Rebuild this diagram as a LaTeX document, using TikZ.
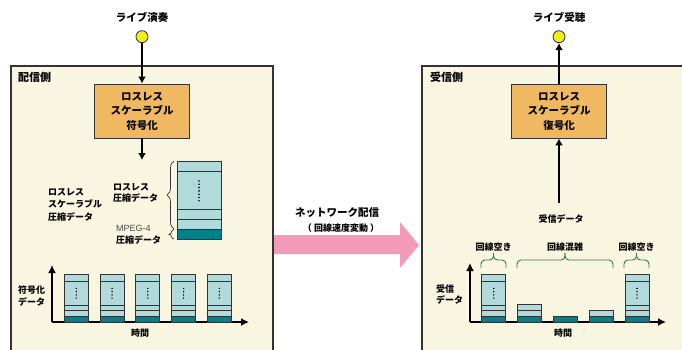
\documentclass[tikz,border=0pt]{standalone}
\usepackage{fontspec}
\setmainfont{Noto Sans CJK JP}
\newfontfamily\latinfont{Liberation Sans}
\usetikzlibrary{arrows.meta,decorations.pathreplacing}
\definecolor{panelbg}{HTML}{F8F6E1}
\definecolor{boxorange}{HTML}{F0B860}
\definecolor{lteal}{HTML}{B2DADB}
\definecolor{dteal}{HTML}{00808A}
\definecolor{pinkarrow}{HTML}{F39AB8}
\definecolor{bracegreen}{HTML}{2F7D3B}
\definecolor{dotyellow}{HTML}{F5EB1A}
\definecolor{linegray}{HTML}{333333}
\tikzset{
  panelline/.style={draw=linegray, line width=1.2pt},
  codecbox/.style={draw=linegray, fill=boxorange, line width=0.9pt, minimum width=95pt, minimum height=54pt, align=center, inner sep=0pt, font=\bfseries\fontsize{10.5}{14.5}\selectfont},
  lbl/.style={font=\bfseries\fontsize{9}{11.5}\selectfont, align=left, inner sep=0pt},
  title/.style={font=\bfseries\fontsize{10.5}{12}\selectfont, inner sep=0pt},
  live/.style={circle, fill=dotyellow, draw=linegray, line width=0.8pt, minimum size=12pt, inner sep=0pt},
  flow/.style={line width=1.7pt, -{Latex[length=7pt,width=8pt]}},
  axis/.style={line width=1.7pt, -{Latex[length=8pt,width=8pt]}},
  stk/.style={draw=linegray, line width=0.8pt},
  gbrace/.style={draw=bracegreen, line width=0.9pt, rounded corners=4pt},
  kbrace/.style={draw=linegray, line width=0.7pt, decorate},
}
\newcommand\fullcol[1]{%
  \fill[lteal] (#1,274.3) rectangle (#1+24,316);
  \fill[dteal] (#1,316) rectangle (#1+24,322);
  \draw[stk] (#1,274.3) rectangle (#1+24,322);
  \draw[stk] (#1,281) -- (#1+24,281) (#1,305) -- (#1+24,305) (#1,310.3) -- (#1+24,310.3) (#1,316) -- (#1+24,316);
  \foreach \k in {0,...,3} \fill (#1+12,288.5+3.2*\k) circle (0.8);
}
\begin{document}
\begin{tikzpicture}[x=1pt,y=-1pt]
\useasboundingbox (0,0) rectangle (682,350);
% pink network arrow
\fill[pinkarrow] (273,235) -- (400,235) -- (400,222) -- (419,245) -- (400,268) -- (400,254) -- (273,254) -- cycle;
% panels
\fill[panelbg] (11,66) rectangle (273,352);
\draw[panelline] (11,352) -- (11,66) -- (273,66) -- (273,352);
\fill[panelbg] (422,66) rectangle (686,352);
\draw[panelline] (422,352) -- (422,66) -- (686,66);
\node[title, anchor=west, font=\bfseries\fontsize{11}{12}\selectfont] (sendside) at (18,77) {配信側};
\node[title, anchor=west, font=\bfseries\fontsize{11}{12}\selectfont] (recvside) at (430,77) {受信側};
% network label
\node[title] (netlbl) at (337,213) {ネットワーク配信};
\node[lbl, font=\bfseries\fontsize{9}{10}\selectfont] (netsub) at (341,228) {（ 回線速度変動 ）};
% sender top
\node[title] (livein) at (142,17) {ライブ演奏};
\node[live] (srcdot) at (142,36.7) {};
\node[codecbox] (enc) at (142,111) {ロスレス\\スケーラブル\\符号化};
\coordinate (stackin) at (142,160);
\draw[flow] (srcdot) -- (enc.north);
\draw[flow] (enc.south) -- (stackin);
% big stack
\fill[lteal] (177,161) rectangle (221,229);
\fill[dteal] (177,229) rectangle (221,239);
\draw[stk] (177,161) rectangle (221,239);
\draw[stk] (177,171) -- (221,171) (177,209) -- (221,209) (177,219) -- (221,219) (177,229) -- (221,229);
\foreach \k in {0,...,6} \fill (199,181+3.3*\k) circle (0.9);
\draw[kbrace, decoration={brace, amplitude=7pt}] (174,229) -- (174,161);
\draw[kbrace, decoration={brace, amplitude=5pt}] (174,239) -- (174,229.5);
\node[lbl, anchor=north west] (losslbl) at (113,183) {ロスレス\\圧縮データ};
\node[lbl, anchor=west, font=\latinfont\fontsize{9}{10}\selectfont, text=black!70] (mpeglbl) at (116,228) {MPEG-4};
\node[lbl, anchor=west] (mpegdata) at (116,239.5) {圧縮データ};
\node[lbl, anchor=north west, font=\bfseries\fontsize{9}{12.5}\selectfont] (scallbl) at (48,188) {ロスレス\\スケーラブル\\圧縮データ};
% sender chart
\coordinate (lorig) at (52,322);
\coordinate (lytop) at (52,265);
\coordinate (lxend) at (249,322);
\draw[axis] (lorig) -- (lytop);
\draw[axis] (lorig) -- (lxend);
\node[lbl, anchor=north west] (encdata) at (18,286) {符号化\\データ};
\node[lbl] (ltime) at (140,333) {時間};
\foreach \i in {0,...,4} {\fullcol{64.3+35.75*\i}}
% receiver top
\node[title] (liveout) at (559,17) {ライブ受聴};
\node[live] (dstdot) at (559,36.7) {};
\node[codecbox] (dec) at (559,111) {ロスレス\\スケーラブル\\復号化};
\coordinate (rxin) at (559,203);
\draw[flow] (dec.north) -- (dstdot);
\draw[flow] (rxin) -- (dec.south);
\node[lbl] (rxdata) at (561,219) {受信データ};
% receiver chart
\coordinate (rorig) at (470,322);
\coordinate (rytop) at (470,263);
\coordinate (rxend) at (666,322);
\draw[axis] (rorig) -- (rytop);
\draw[axis] (rorig) -- (rxend);
\node[lbl, anchor=north west] (rcvlbl) at (436,284.5) {受信\\データ};
\node[lbl] (rtime) at (563,333) {時間};
\fullcol{481.7}
% col2
\fill[lteal] (517.7,304) rectangle (541.7,316);
\fill[dteal] (517.7,316) rectangle (541.7,322);
\draw[stk] (517.7,304) rectangle (541.7,322);
\draw[stk] (517.7,310) -- (541.7,310) (517.7,316) -- (541.7,316);
% col3
\fill[dteal] (553.3,316.3) rectangle (577.3,322);
\draw[stk] (553.3,316.3) rectangle (577.3,322);
% col4
\fill[lteal] (589.3,310.3) rectangle (613.3,316);
\fill[dteal] (589.3,316) rectangle (613.3,322);
\draw[stk] (589.3,310.3) rectangle (613.3,322);
\draw[stk] (589.3,316) -- (613.3,316);
\fullcol{625}
% green braces
\draw[gbrace] (481,268) -- (481,260) -- (493.5,260) -- (493.5,253);
\draw[gbrace] (506,268) -- (506,260) -- (493.5,260) -- (493.5,253);
\draw[gbrace] (517,268) -- (517,260) -- (565,260) -- (565,253);
\draw[gbrace] (613,268) -- (613,260) -- (565,260) -- (565,253);
\draw[gbrace] (624,268) -- (624,260) -- (636.5,260) -- (636.5,253);
\draw[gbrace] (649,268) -- (649,260) -- (636.5,260) -- (636.5,253);
\node[lbl] (free1) at (493.5,247) {回線空き};
\node[lbl] (busy) at (565,247) {回線混雑};
\node[lbl] (free2) at (636.5,247) {回線空き};
\end{tikzpicture}
\end{document}
